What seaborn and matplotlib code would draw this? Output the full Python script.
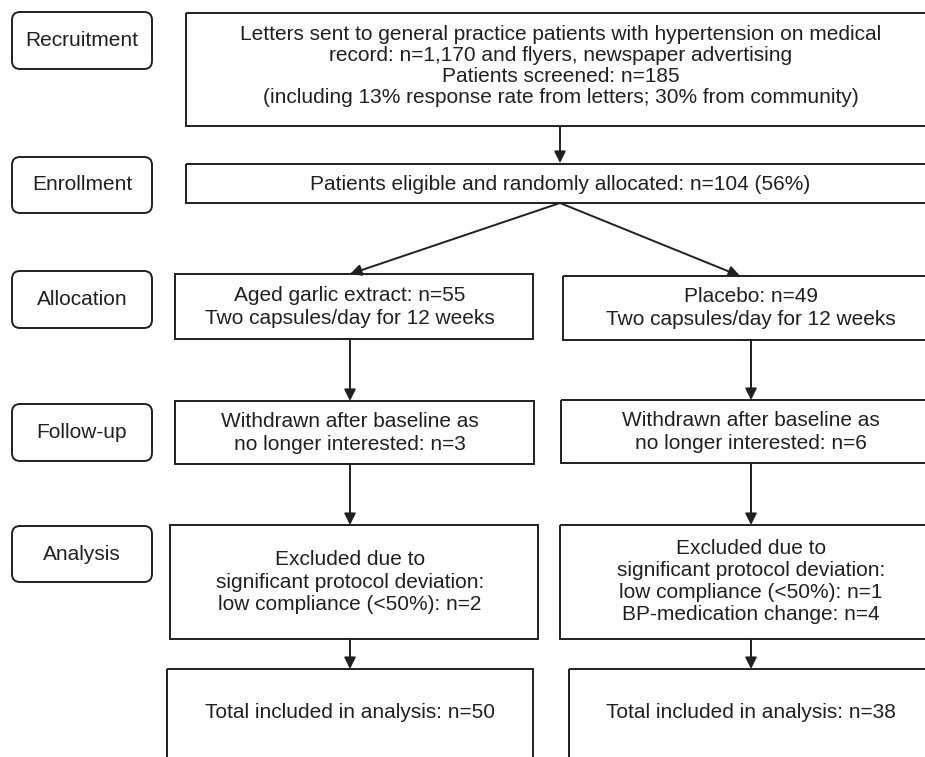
import matplotlib
matplotlib.use("Agg")
import matplotlib.pyplot as plt
import seaborn as sns
from matplotlib.patches import Rectangle, FancyBboxPatch

# --- Flowchart content ---
stages = ["Recruitment", "Enrollment", "Allocation", "Follow-up", "Analysis"]

recruit_text = ("Letters sent to general practice patients with hypertension on medical\n"
                "record: n=1,170 and flyers, newspaper advertising\n"
                "Patients screened: n=185\n"
                "(including 13% response rate from letters; 30% from community)")
enroll_text = "Patients eligible and randomly allocated: n=104 (56%)"

garlic_texts = [
    "Aged garlic extract: n=55\nTwo capsules/day for 12 weeks",
    "Withdrawn after baseline as\nno longer interested: n=3",
    "Excluded due to\nsignificant protocol deviation:\nlow compliance (<50%): n=2",
    "Total included in analysis: n=50",
]
placebo_texts = [
    "Placebo: n=49\nTwo capsules/day for 12 weeks",
    "Withdrawn after baseline as\nno longer interested: n=6",
    "Excluded due to\nsignificant protocol deviation:\nlow compliance (<50%): n=1\nBP-medication change: n=4",
    "Total included in analysis: n=38",
]

# --- Layout (pixels, y grows downward) ---
stage_boxes = [(12, 69), (157, 213), (271, 328), (404, 461), (526, 582)]
left_boxes = [(175, 533, 274, 339), (175, 534, 401, 464),
              (170, 538, 525, 639), (167, 533, 669, 790)]
right_boxes = [(563, 940, 276, 340), (561, 940, 400, 463),
               (560, 940, 525, 639), (569, 940, 669, 790)]
left_text_y = [307, 433, 582, 713]
right_text_y = [308, 432, 582, 713]
left_line_sp = [1.22, 1.22, 1.26, 1.2]
right_line_sp = [1.22, 1.22, 1.2, 1.2]

INK = "#231f20"
LW = 1.4
FS = 15

sns.set_style("white")
plt.rcParams['font.family'] = ['Liberation Sans', 'DejaVu Sans']

fig = plt.figure(figsize=(9.25, 7.57), dpi=100)
ax = fig.add_axes([0, 0, 1, 1])
ax.set_xlim(0, 925)
ax.set_ylim(757, 0)
ax.axis("off")


def rect(x0, x1, y0, y1):
    ax.add_patch(Rectangle((x0, y0), x1 - x0, y1 - y0, fill=False,
                           edgecolor=INK, linewidth=LW))


def arrow(x0, y0, x1, y1):
    ax.annotate("", xy=(x1, y1), xytext=(x0, y0),
                arrowprops=dict(arrowstyle="-|>", color=INK, lw=LW,
                                mutation_scale=17, shrinkA=0, shrinkB=0))


# stage labels (rounded boxes)
for name, (y0, y1) in zip(stages, stage_boxes):
    ax.add_patch(FancyBboxPatch((12 + 8, y0 + 8), 140 - 16, (y1 - y0) - 16,
                                boxstyle="round,pad=8", fill=False,
                                edgecolor=INK, linewidth=LW))
    ax.text(82, (y0 + y1) / 2, name, ha="center", va="center",
            fontsize=FS, color=INK)

# recruitment and enrollment
rect(186, 940, 13, 126)
ax.text(561, 66, recruit_text, ha="center", va="center", fontsize=FS,
        color=INK, linespacing=1.12)
arrow(560, 126, 560, 163)
rect(186, 940, 164, 203)
ax.text(560, 184, enroll_text, ha="center", va="center", fontsize=FS, color=INK)

# split arrows
arrow(560, 203, 350, 274)
arrow(560, 203, 740, 276)

# two arms
for boxes, texts, ty, sp, cx in [(left_boxes, garlic_texts, left_text_y, left_line_sp, 350),
                                 (right_boxes, placebo_texts, right_text_y, right_line_sp, 751)]:
    for i, ((x0, x1, y0, y1), t, y, s) in enumerate(zip(boxes, texts, ty, sp)):
        rect(x0, x1, y0, y1)
        ax.text(cx, y, t, ha="center", va="center", fontsize=FS,
                color=INK, linespacing=s)
        if i < len(boxes) - 1:
            arrow(cx, y1, cx, boxes[i + 1][2])

fig.savefig("out.png", dpi=100)
